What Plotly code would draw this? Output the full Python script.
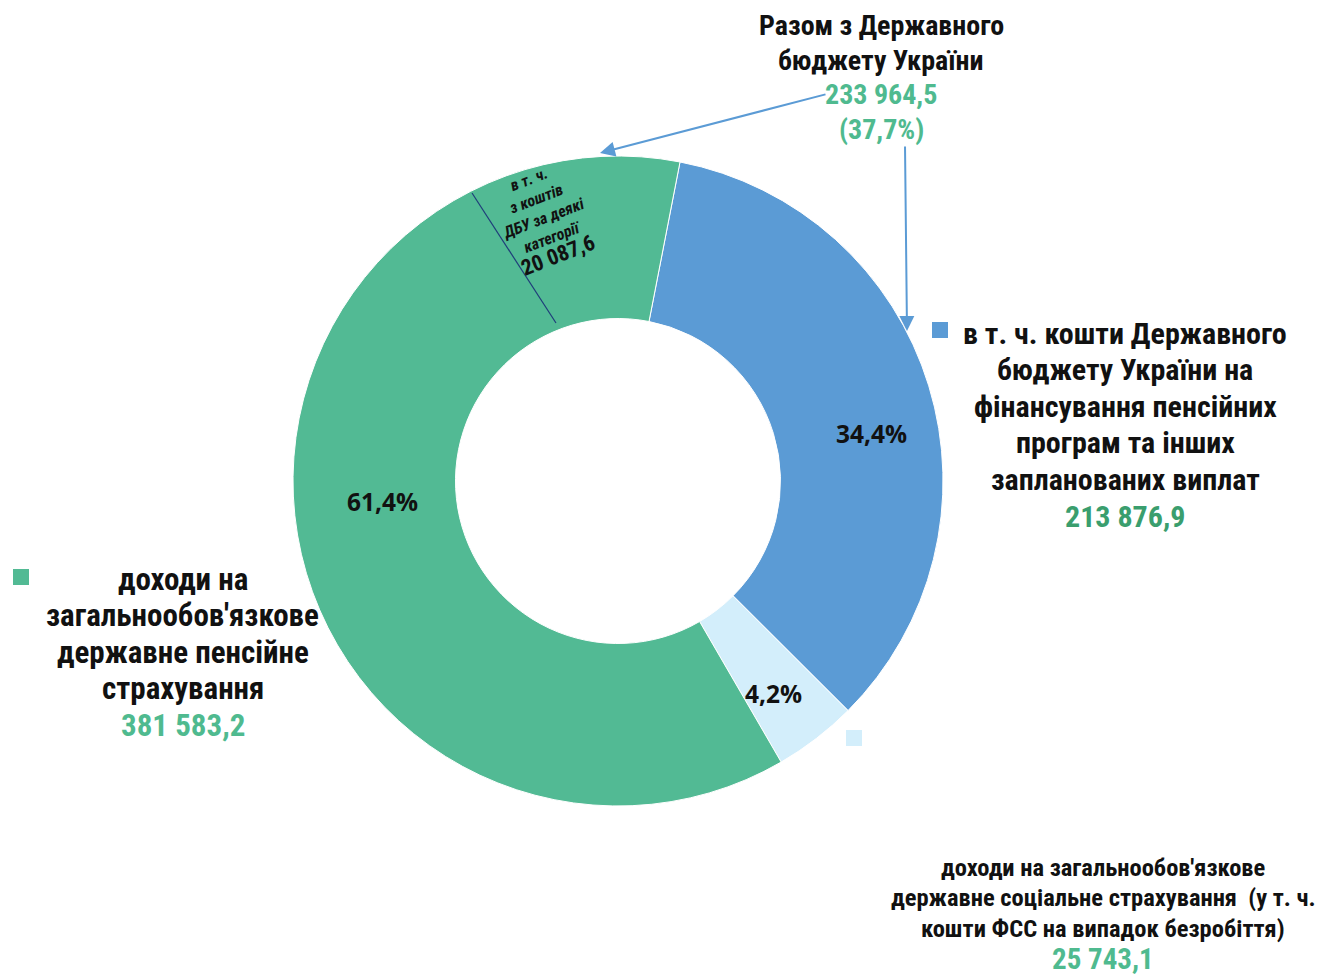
import plotly.graph_objects as go

# the page body has an 8px margin, so the figure is drawn 8px in from the corner
OFF = 8
W, H = 1330 - OFF, 976 - OFF

# ---- data ----
slice_labels = [
    "в т. ч. кошти Державного бюджету України на фінансування пенсійних програм та інших запланованих виплат",
    "доходи на загальнообов'язкове державне соціальне страхування (у т. ч. кошти ФСС на випадок безробіття)",
    "доходи на загальнообов'язкове державне пенсійне страхування",
]
slice_values = [213876.9, 25743.1, 381583.2]
slice_pct_text = ["34,4%", "4,2%", "61,4%"]
slice_colors = ["#5B9BD5", "#D3EEFB", "#52BA94"]

state_budget_total = 233964.5
state_budget_share = "37,7%"
dbu_some_categories = 20087.6


def fmt(v):
    s = f"{v:,.1f}"
    return s.replace(",", " ").replace(".", ",")


def px(x):
    return (x - OFF) / W


def py(y):
    return 1 - (y - OFF) / H


NARROW = "Liberation Sans Narrow, Arial Narrow, Roboto Condensed, Liberation Sans, sans-serif"
PCTFONT = "Open Sans, Lato, DejaVu Sans, sans-serif"
BLACK = "#111111"
GREEN_TXT = "#4FBA8F"
GREEN_DARK = "#3A9E6E"

cx, cy, R = 618, 481, 325

fig = go.Figure()
fig.add_trace(go.Pie(
    labels=slice_labels,
    values=slice_values,
    marker=dict(colors=slice_colors, line=dict(color="white", width=1)),
    hole=0.5,
    sort=False,
    direction="clockwise",
    rotation=11,
    textinfo="none",
    hoverinfo="label+value",
    domain=dict(x=[px(cx - R), px(cx + R)], y=[py(cy + R), py(cy - R)]),
))

ann = []


def add_lines(lines, colors, x, y0, dy, size, sizes=None):
    for i, (t, c) in enumerate(zip(lines, colors)):
        s = sizes[i] if sizes else size
        ann.append(dict(x=px(x), y=py(y0 + i * dy), xref="paper", yref="paper",
                        text=f"<b>{t}</b>", showarrow=False,
                        xanchor="center", yanchor="middle",
                        font=dict(family=NARROW, size=s, color=c)))


# percentage labels
pct_pos = [(872, 433), (773, 693), (382, 501)]
for t, (x, y) in zip(slice_pct_text, pct_pos):
    ann.append(dict(x=px(x), y=py(y), xref="paper", yref="paper", text=f"<b>{t}</b>",
                    showarrow=False, font=dict(family=PCTFONT, size=24.5, color=BLACK),
                    xanchor="center", yanchor="middle"))

# top block
add_lines(["Разом з Державного", "бюджету України",
           fmt(state_budget_total), f"({state_budget_share})"],
          [BLACK, BLACK, GREEN_TXT, GREEN_TXT], 881, 25, 35, 28)

# right block
add_lines(["в т. ч. кошти Державного", "бюджету України на", "фінансування пенсійних",
           "програм та інших", "запланованих виплат", fmt(slice_values[0])],
          [BLACK] * 5 + [GREEN_DARK], 1125, 333, 36.6, 30)

# left block
add_lines(["доходи на", "загальнообов'язкове", "державне пенсійне", "страхування",
           fmt(slice_values[2])],
          [BLACK] * 4 + [GREEN_TXT], 183, 579, 36.6, 31)

# bottom block
add_lines(["доходи на загальнообов'язкове", "державне соціальне страхування  (у т. ч.",
           "кошти ФСС на випадок безробіття)", fmt(slice_values[1])],
          [BLACK] * 3 + [GREEN_TXT], 1103, 867, 30.5, 24.5, sizes=[24.5, 24.5, 24.5, 29])

# rotated inner note
ann.append(dict(
    x=px(544), y=py(219), xref="paper", yref="paper", showarrow=False,
    xanchor="center", yanchor="middle", textangle=-21,
    text=("<b><i>в т. ч.<br>з коштів<br>ДБУ за деякі<br>категорії</i><br>"
          f"<span style='font-size:22px'>{fmt(dbu_some_categories)}</span></b>"),
    font=dict(family=NARROW, size=16, color=BLACK)))

# arrows
ann.append(dict(x=px(600), y=py(153), xref="paper", yref="paper", text="",
                showarrow=True, ax=827 - 600, ay=94 - 153, axref="pixel", ayref="pixel",
                arrowcolor="#5B9BD5", arrowwidth=2, arrowhead=2, arrowsize=1.5))
ann.append(dict(x=px(907), y=py(331), xref="paper", yref="paper", text="",
                showarrow=True, ax=-2, ay=145 - 331, axref="pixel", ayref="pixel",
                arrowcolor="#5B9BD5", arrowwidth=2, arrowhead=2, arrowsize=1.5))

shapes = []
# divider line inside the green slice
shapes.append(dict(type="line", xref="paper", yref="paper",
                   x0=px(472), y0=py(193), x1=px(556), y1=py(323),
                   line=dict(color="#1F3D7A", width=1.2)))
# legend squares
for (x, y), col in zip([(940, 330), (854, 738), (21, 577)], slice_colors):
    shapes.append(dict(type="rect", xref="paper", yref="paper",
                       x0=px(x - 8), x1=px(x + 8), y0=py(y + 8), y1=py(y - 8),
                       fillcolor=col, line=dict(width=0)))

fig.update_layout(
    width=W, height=H,
    margin=dict(l=0, r=0, t=0, b=0),
    paper_bgcolor="white", plot_bgcolor="white",
    showlegend=False,
    annotations=ann, shapes=shapes,
)

fig.write_html("out.html")
